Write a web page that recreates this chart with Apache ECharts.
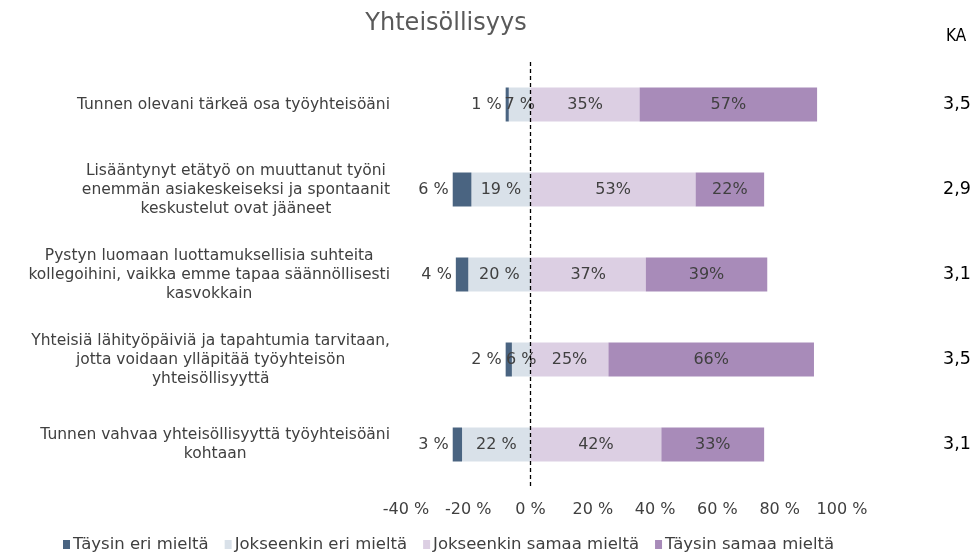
<!DOCTYPE html>
<html>
<head>
<meta charset="utf-8">
<script src="https://cdn.jsdelivr.net/npm/echarts@6/dist/echarts.min.js"></script>
<style>
  html, body { margin: 0; padding: 0; background: #fff; }
  #chart { width: 975px; height: 552px; }
</style>
</head>
<body>
<div id="chart"></div>
<script>
// kysymykset ylhäältä alas
var categories = [
  'Tunnen olevani tärkeä osa työyhteisöäni',
  'Lisääntynyt etätyö on muuttanut työni\nenemmän asiakeskeiseksi ja spontaanit\nkeskustelut ovat jääneet',
  'Pystyn luomaan luottamuksellisia suhteita\nkollegoihini, vaikka emme tapaa säännöllisesti\nkasvokkain',
  'Yhteisiä lähityöpäiviä ja tapahtumia tarvitaan,\njotta voidaan ylläpitää työyhteisön\nyhteisöllisyyttä',
  'Tunnen vahvaa yhteisöllisyyttä työyhteisöäni\nkohtaan'
];
var taysinEri = [1, 6, 4, 2, 3];
var jokseenkinEri = [7, 19, 20, 6, 22];
var jokseenkinSamaa = [35, 53, 37, 25, 42];
var taysinSamaa = [57, 22, 39, 66, 33];
var ka = ['3,5', '2,9', '3,1', '3,5', '3,1'];
var xTicks = [-40, -20, 0, 20, 40, 60, 80, 100];

var txt = '#404040';
var fnt = 'DejaVu Sans, Verdana, sans-serif';

var neg = function (arr) { return arr.map(function (v) { return -v; }); };

var dom = document.getElementById('chart');
var myChart = echarts.init(dom);
var option = {
  animation: false,
  textStyle: { fontFamily: fnt },
  title: [
    { text: 'Yhteisöllisyys', left: 441, top: 7, textAlign: 'center',
      textStyle: { fontSize: 24, fontWeight: 'normal', color: '#595959', fontFamily: fnt } },
    { text: 'KA', left: 951, top: 23, textAlign: 'center',
      textStyle: { fontSize: 17, fontWeight: 'normal', color: '#000', fontFamily: 'DejaVu Sans Condensed, DejaVu Sans, sans-serif' } }
  ],
  legend: {
    top: 531, left: 58, icon: 'rect', itemWidth: 7, itemHeight: 9, itemGap: 16,
    data: ['Täysin eri mieltä', 'Jokseenkin eri mieltä', 'Jokseenkin samaa mieltä', 'Täysin samaa mieltä'],
    textStyle: { fontSize: 16.5, color: txt, fontFamily: fnt, padding: [0, 0, 0, -2] }
  },
  grid: { left: 406, right: 133, top: 62, bottom: 65 },
  xAxis: {
    type: 'value', min: -40, max: 100, interval: 20,
    splitLine: { show: false }, axisLine: { show: false }, axisTick: { show: false },
    axisLabel: {
      margin: 15, fontSize: 16, color: txt, fontFamily: fnt,
      formatter: function (v) { return xTicks.indexOf(v) >= 0 ? v + ' %' : ''; }
    }
  },
  yAxis: [
    {
      type: 'category', inverse: true, data: categories,
      axisLine: { show: false }, axisTick: { show: false },
      axisLabel: {
        margin: 16, fontSize: 15.5, color: txt, fontFamily: fnt, lineHeight: 19,
        formatter: function (v) {
          return v.split('\n').map(function (s) { return '{c|' + s + '}'; }).join('\n');
        },
        rich: { c: { align: 'center', fontSize: 15.5, color: txt, fontFamily: fnt, lineHeight: 19 } }
      }
    },
    {
      type: 'category', inverse: true, data: ka, position: 'right',
      axisLine: { show: false }, axisTick: { show: false },
      axisLabel: { margin: 101, fontSize: 17.5, color: '#000', fontFamily: fnt }
    }
  ],
  series: [
    {
      name: 'Jokseenkin eri mieltä', type: 'bar', stack: 'a', barWidth: 34,
      data: neg(jokseenkinEri), itemStyle: { color: '#d9e1e9' },
      label: { show: true, position: 'inside', fontSize: 16, color: txt, fontFamily: fnt,
        formatter: function (p) { return Math.abs(p.value) + ' %'; } },
      markLine: {
        silent: true, symbol: 'none',
        lineStyle: { color: '#000', type: [4, 3], width: 1.3 },
        label: { show: false },
        data: [{ xAxis: 0 }]
      }
    },
    {
      name: 'Täysin eri mieltä', type: 'bar', stack: 'a', barWidth: 34,
      data: neg(taysinEri), itemStyle: { color: '#4a6481' },
      label: { show: true, position: 'left', distance: 4, fontSize: 16, color: txt, fontFamily: fnt,
        formatter: function (p) { return Math.abs(p.value) + ' %'; } }
    },
    {
      name: 'Jokseenkin samaa mieltä', type: 'bar', stack: 'a', barWidth: 34,
      data: jokseenkinSamaa, itemStyle: { color: '#dccfe3' },
      label: { show: true, position: 'inside', fontSize: 16, color: txt, fontFamily: fnt, formatter: '{c}%' }
    },
    {
      name: 'Täysin samaa mieltä', type: 'bar', stack: 'a', barWidth: 34,
      data: taysinSamaa, itemStyle: { color: '#a88bb9' },
      label: { show: true, position: 'inside', fontSize: 16, color: txt, fontFamily: fnt, formatter: '{c}%' }
    }
  ]
};
if (option && typeof option === "object") {
  myChart.setOption(option, true);
}
</script>
</body>
</html>
